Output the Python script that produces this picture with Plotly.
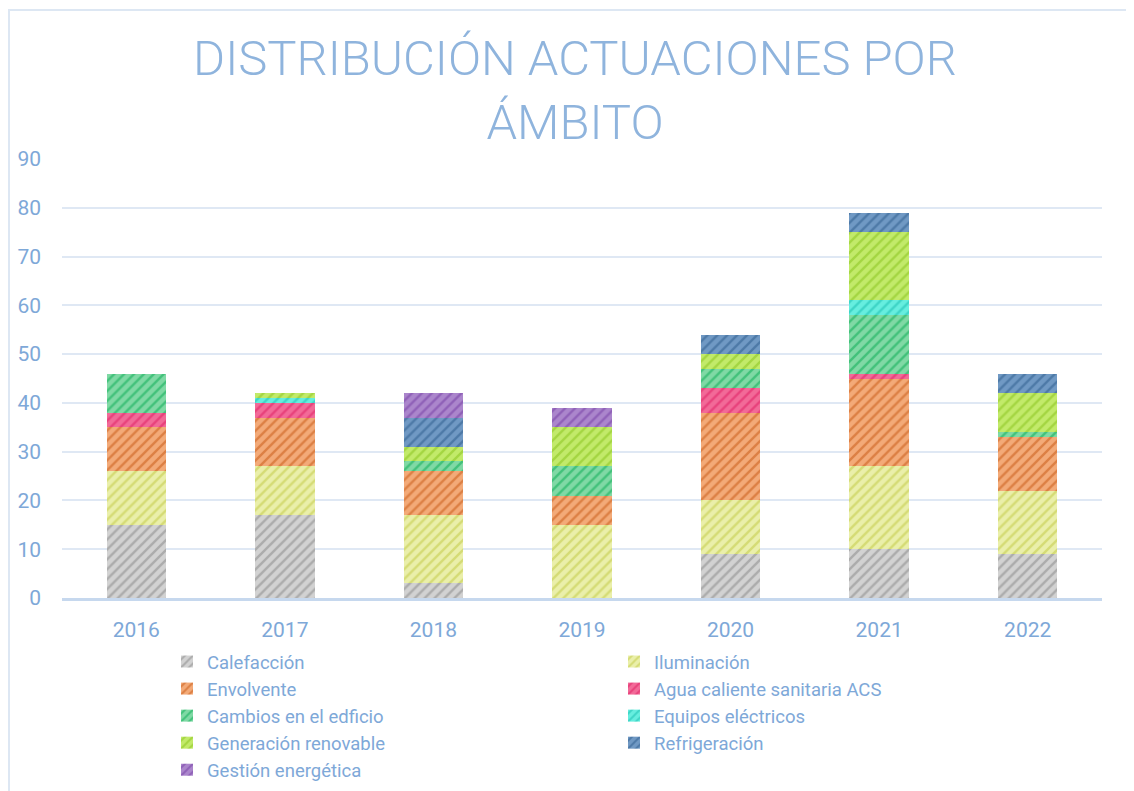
import plotly.graph_objects as go

years = ["2016", "2017", "2018", "2019", "2020", "2021", "2022"]

calefaccion = [15, 17, 3, 0, 9, 10, 9]
iluminacion = [11, 10, 14, 15, 11, 17, 13]
envolvente = [9, 10, 9, 6, 18, 18, 11]
acs = [3, 3, 0, 0, 5, 1, 0]
cambios = [8, 0, 2, 6, 4, 12, 1]
equipos = [0, 1, 0, 0, 0, 3, 0]
generacion = [0, 1, 3, 8, 3, 14, 8]
refrigeracion = [0, 0, 6, 0, 4, 4, 4]
gestion = [0, 0, 5, 4, 0, 0, 0]

series = [
    ("Calefacción", calefaccion, "#d2d2d2", "#868686"),
    ("Iluminación", iluminacion, "#eaefaa", "#c0c840"),
    ("Envolvente", envolvente, "#f3aa78", "#c55510"),
    ("Agua caliente sanitaria ACS", acs, "#f26a98", "#de1a5f"),
    ("Cambios en el edficio", cambios, "#80d9a5", "#03aa50"),
    ("Equipos eléctricos", equipos, "#66eedf", "#15bbad"),
    ("Generación renovable", generacion, "#c2ea6a", "#86c219"),
    ("Refrigeración", refrigeracion, "#7099c4", "#2a5a8a"),
    ("Gestión energética", gestion, "#ab86cc", "#733ba3"),
]

fig = go.Figure()
for name, vals, bg, fg in series:
    fig.add_trace(go.Bar(
        name=name, x=years, y=vals,
        marker=dict(color=bg, line=dict(width=0),
                    pattern=dict(shape="/", bgcolor=bg, fgcolor=fg,
                                 size=7, solidity=0.35, fillmode="overlay")),
    ))

# page body offset (browser default margin)
OFF = 8
W, H = 1134, 791
# target plot area in viewport pixels
PX0, PX1, PY0, PY1 = 62, 1102, 159, 598
L = PX0 - OFF
R = W - (PX1 - OFF)
T = PY0 - OFF
B = H - (PY1 - OFF)
pw = W - L - R
ph = H - T - B


def px_x(p):
    return (p - OFF - L) / pw


def px_y(p):
    return (PY1 - p) / ph


txt = "#7ea8d8"
fig.update_layout(
    width=W, height=H,
    barmode="stack", bargap=0.6,
    plot_bgcolor="white", paper_bgcolor="white",
    margin=dict(l=L, r=R, t=T, b=B, pad=0, autoexpand=False),
    font=dict(family="Roboto", color=txt, size=21),
    title=dict(text="DISTRIBUCIÓN ACTUACIONES POR<br>ÁMBITO",
               x=0.5, xanchor="center", xref="container",
               y=1 - (89 - OFF - 14) / H, yanchor="middle", yref="container",
               font=dict(family="Roboto", size=49, color="#8fb4dd", weight=300)),
    xaxis=dict(showgrid=False, showline=True, linecolor="#c6d8ee", linewidth=3,
               ticks="", tickfont=dict(size=21, color=txt), ticklabelstandoff=11),
    yaxis=dict(range=[0, 90], dtick=10, showgrid=True, gridcolor="#dfe8f4", gridwidth=2,
               zeroline=False, showline=False, ticks="",
               tickfont=dict(size=21, color=txt), ticklabelstandoff=20),
    legend=dict(orientation="h", xref="container", yref="container",
                x=(207 - OFF - 40) / W, y=1 - (643 - OFF) / H,
                xanchor="left", yanchor="top",
                entrywidth=402, entrywidthmode="pixels",
                font=dict(size=18.5, color=txt), traceorder="normal",
                bgcolor="rgba(0,0,0,0)", tracegroupgap=0),
    shapes=[dict(type="rect", xref="paper", yref="paper",
                 x0=px_x(9), x1=px_x(1160), y0=px_y(820), y1=px_y(10),
                 line=dict(color="#dde7f3", width=2), fillcolor="rgba(0,0,0,0)",
                 layer="below")],
)

fig.write_html("out.html")
